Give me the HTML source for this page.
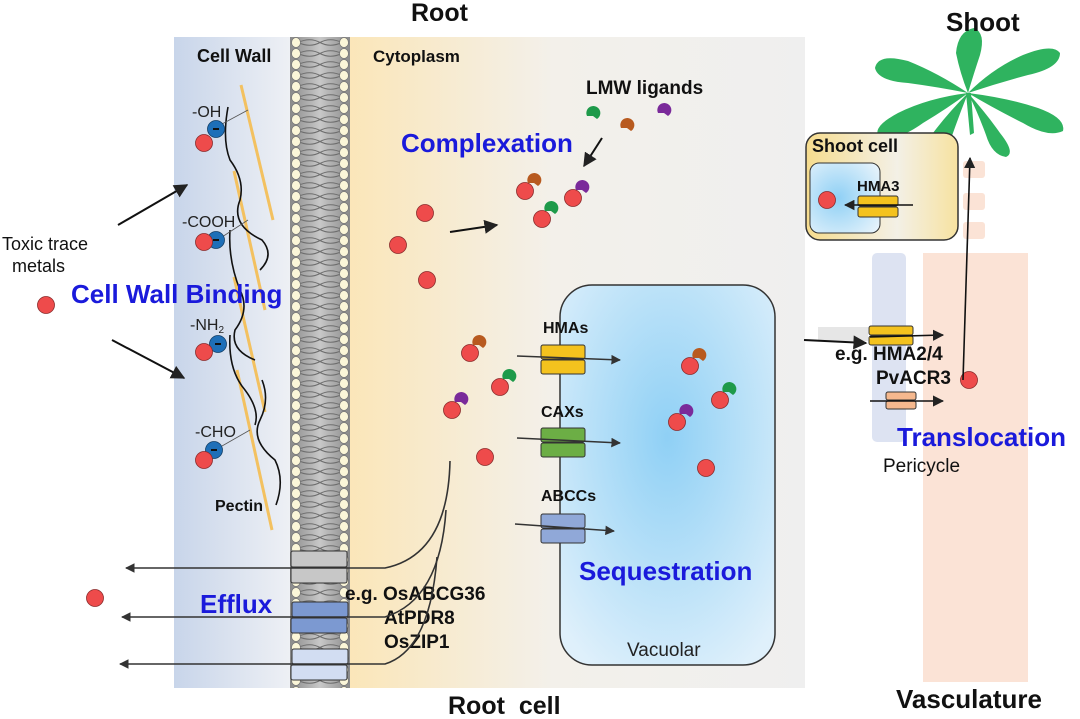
<!DOCTYPE html>
<html><head><meta charset="utf-8"><style>
body{margin:0;background:#fff}
svg{display:block;font-family:"Liberation Sans",Arial,sans-serif}
.b{font-weight:bold}
</style></head><body>
<svg width="1080" height="719" viewBox="0 0 1080 719" xmlns="http://www.w3.org/2000/svg">
<defs>
<linearGradient id="cw" x1="0" x2="1"><stop offset="0" stop-color="#c8d5ea"/><stop offset="1" stop-color="#eff1f5"/></linearGradient>
<linearGradient id="cy" x1="0" x2="1"><stop offset="0" stop-color="#fbe6b8"/><stop offset="0.45" stop-color="#f3f0ea"/><stop offset="1" stop-color="#efefef"/></linearGradient>
<radialGradient id="vac" cx="0.5" cy="0.4" r="0.7"><stop offset="0" stop-color="#8fd0f5"/><stop offset="1" stop-color="#dff0fb"/></radialGradient>
<radialGradient id="vac2" cx="0.4" cy="0.5" r="0.7"><stop offset="0" stop-color="#8fd0f5"/><stop offset="1" stop-color="#e4f2fb"/></radialGradient>
<linearGradient id="sc" x1="0" x2="1"><stop offset="0" stop-color="#f6dc8e"/><stop offset="0.6" stop-color="#f3f0e6"/><stop offset="1" stop-color="#f7e2a0"/></linearGradient>
<linearGradient id="mem" x1="0" x2="1"><stop offset="0" stop-color="#8a8a8a"/><stop offset="0.5" stop-color="#c8c8c8"/><stop offset="1" stop-color="#8a8a8a"/></linearGradient>
<pattern id="beads" width="60" height="11" patternUnits="userSpaceOnUse" x="290" y="37">
<rect width="60" height="11" fill="url(#mem)"/>
<path d="M8 5.5 Q20 0 30 5.5 Q40 11 52 5.5" stroke="#6d6d6d" fill="none" stroke-width="1"/>
<path d="M8 5.5 Q20 11 30 5.5 Q40 0 52 5.5" stroke="#6d6d6d" fill="none" stroke-width="1"/>
<ellipse cx="6" cy="5.5" rx="4.5" ry="5" fill="#fbf6d8" stroke="#777" stroke-width="0.8"/>
<ellipse cx="54" cy="5.5" rx="4.5" ry="5" fill="#fbf6d8" stroke="#777" stroke-width="0.8"/>
</pattern>
<marker id="ar" viewBox="0 0 10 10" refX="9" refY="5" markerWidth="7" markerHeight="7" orient="auto"><path d="M0 0L10 5L0 10z" fill="#222"/></marker>
<marker id="ar2" viewBox="0 0 10 10" refX="9" refY="5" markerWidth="6" markerHeight="6" orient="auto"><path d="M0 0L10 5L0 10z" fill="#333"/></marker>
<g id="m"><circle r="8.5" fill="#ee4b4b" stroke="#8a2a2a" stroke-width="0.8"/></g>
<g id="n"><circle r="8.5" fill="#1e6fb8" stroke="#123e66" stroke-width="0.8"/><rect x="-3" y="-1" width="6" height="2" fill="#111"/></g>
</defs>

<rect x="174" y="37" width="120" height="651" fill="url(#cw)"/>
<rect x="346" y="37" width="459" height="651" fill="url(#cy)"/>
<rect x="923" y="253" width="105" height="429" fill="#fbe3d6"/>
<rect x="872" y="253" width="34" height="189" rx="5" fill="#dde3f2"/>
<rect x="963" y="161" width="22" height="17" rx="3" fill="#fbe3d6"/>
<rect x="963" y="193" width="22" height="17" rx="3" fill="#fbe3d6"/>
<rect x="963" y="222" width="22" height="17" rx="3" fill="#fbe3d6"/>
<rect x="818" y="327" width="50" height="14" fill="#e6e6e6"/>

<!-- plant -->
<g fill="#2fb35f" transform="translate(968,93)">
<path d="M0 0 Q-30 -20 -60 -32 Q-90 -40 -93 -25 Q-90 -12 -60 -10 Q-30 -6 0 0 Z"/>
<path d="M0 0 Q-8 -20 -12 -40 Q-10 -62 6 -65 Q18 -60 12 -38 Q6 -20 0 0 Z"/>
<path d="M0 0 Q25 -25 55 -38 Q85 -50 92 -40 Q92 -25 60 -18 Q30 -10 0 0 Z"/>
<path d="M0 0 Q40 5 70 15 Q98 25 95 38 Q80 45 55 30 Q25 15 0 0 Z"/>
<path d="M0 0 Q-40 5 -70 20 Q-98 35 -88 45 Q-70 48 -45 30 Q-20 15 0 0 Z"/>
<path d="M0 0 Q-20 20 -35 40 Q-50 60 -38 64 Q-22 62 -15 40 Q-8 20 0 0 Z"/>
<path d="M0 0 Q18 20 32 40 Q48 60 38 64 Q24 62 18 42 Q10 20 0 0 Z"/>
<path d="M-2 0 L3 0 L6 40 L2 42 Z"/>
</g>

<rect x="806" y="133" width="152" height="107" rx="14" fill="url(#sc)" stroke="#333" stroke-width="1.5"/>
<rect x="810" y="163" width="70" height="70" rx="9" fill="url(#vac2)" stroke="#333" stroke-width="1"/>
<text x="812" y="152" class="b" font-size="18" fill="#111">Shoot cell</text>
<text x="857" y="191" class="b" font-size="15" fill="#111">HMA3</text>
<use href="#m" x="827" y="200"/>
<rect x="858" y="196" width="40" height="10" rx="2" fill="#f4c21e" stroke="#333"/>
<rect x="858" y="207" width="40" height="10" rx="2" fill="#f4c21e" stroke="#333"/>
<line x1="913" y1="205" x2="845" y2="205" stroke="#111" stroke-width="1.5" marker-end="url(#ar)"/>

<rect x="560" y="285" width="215" height="380" rx="32" fill="url(#vac)" stroke="#333" stroke-width="1.5"/>
<rect x="290" y="37" width="60" height="651" fill="url(#beads)"/>

<g stroke="#f3c160" stroke-width="3" fill="none">
<line x1="241" y1="85" x2="273" y2="220"/>
<line x1="234" y1="171" x2="265" y2="310"/>
<line x1="234" y1="277" x2="265" y2="412"/>
<line x1="237" y1="370" x2="272" y2="530"/>
</g>
<g stroke="#111" stroke-width="1.6" fill="none">
<path d="M228 107 Q222 140 230 160 Q245 180 240 200 Q230 225 262 240 Q275 255 260 270"/>
<path d="M230 230 Q228 260 240 290 Q250 310 235 330 Q230 350 255 360"/>
<path d="M230 335 Q228 370 245 390 Q260 410 255 425"/>
<path d="M262 380 Q270 400 260 420 Q250 440 275 460 Q285 480 276 505"/>
</g>
<g stroke="#555" stroke-width="0.8"><line x1="222" y1="124" x2="248" y2="110"/><line x1="222" y1="237" x2="248" y2="220"/><line x1="222" y1="446" x2="250" y2="430"/></g>
<text x="192" y="117" font-size="16" fill="#222">-OH</text>
<text x="182" y="227" font-size="16" fill="#222">-COOH</text>
<text x="190" y="330" font-size="16" fill="#222">-NH<tspan font-size="10" dy="3">2</tspan></text>
<text x="195" y="437" font-size="16" fill="#222">-CHO</text>
<use href="#n" x="216" y="129"/><use href="#m" x="204" y="143"/>
<use href="#n" x="216" y="240"/><use href="#m" x="204" y="242"/>
<use href="#n" x="218" y="344"/><use href="#m" x="204" y="352"/>
<use href="#n" x="214" y="450"/><use href="#m" x="204" y="460"/>
<text x="215" y="511" class="b" font-size="16" fill="#111">Pectin</text>

<text x="197" y="62" class="b" font-size="18" fill="#111">Cell Wall</text>
<text x="373" y="62" class="b" font-size="17" fill="#111">Cytoplasm</text>
<text x="411" y="21" class="b" font-size="25" fill="#111">Root</text>
<text x="946" y="31" class="b" font-size="26" fill="#111">Shoot</text>
<text x="448" y="714" class="b" font-size="25" fill="#111" xml:space="preserve">Root  cell</text>
<text x="896" y="708" class="b" font-size="26" fill="#111">Vasculature</text>
<text x="586" y="94" class="b" font-size="19" fill="#111">LMW ligands</text>
<text x="401" y="152" class="b" font-size="26" fill="#1a1adb">Complexation</text>
<text x="71" y="303" class="b" font-size="26" fill="#1a1adb">Cell Wall Binding</text>
<text x="200" y="613" class="b" font-size="26" fill="#1a1adb">Efflux</text>
<text x="579" y="580" class="b" font-size="26" fill="#1a1adb">Sequestration</text>
<text x="897" y="446" class="b" font-size="26" fill="#1a1adb">Translocation</text>
<text x="883" y="472" font-size="19" fill="#111">Pericycle</text>
<text x="627" y="656" font-size="19" fill="#222">Vacuolar</text>
<text x="2" y="250" font-size="18" fill="#111">Toxic trace</text>
<text x="12" y="272" font-size="18" fill="#111">metals</text>
<text x="543" y="333" class="b" font-size="16" fill="#111">HMAs</text>
<text x="541" y="417" class="b" font-size="16" fill="#111">CAXs</text>
<text x="541" y="501" class="b" font-size="16" fill="#111">ABCCs</text>
<text x="835" y="360" class="b" font-size="19" fill="#111">e.g. HMA2/4</text>
<text x="876" y="384" class="b" font-size="19" fill="#111">PvACR3</text>
<text x="345" y="600" class="b" font-size="19" fill="#111">e.g. OsABCG36</text>
<text x="384" y="624" class="b" font-size="19" fill="#111">AtPDR8</text>
<text x="384" y="648" class="b" font-size="19" fill="#111">OsZIP1</text>

<use href="#m" x="46" y="305"/><use href="#m" x="95" y="598"/>
<use href="#m" x="425" y="213"/><use href="#m" x="398" y="245"/><use href="#m" x="427" y="280"/>
<use href="#m" x="485" y="457"/><use href="#m" x="706" y="468"/><use href="#m" x="969" y="380"/>
<g>
<use href="#m" x="525" y="191"/><path d="M528 183 a7 7 0 1 1 10 3 l-4 -3 z" fill="#b85a1f"/>
<use href="#m" x="542" y="219"/><path d="M545 211 a7 7 0 1 1 10 3 l-4 -3 z" fill="#1e9a4a"/>
<use href="#m" x="573" y="198"/><path d="M576 190 a7 7 0 1 1 10 3 l-4 -3 z" fill="#7a2a9a"/>
<use href="#m" x="470" y="353"/><path d="M473 345 a7 7 0 1 1 10 3 l-4 -3 z" fill="#b85a1f"/>
<use href="#m" x="500" y="387"/><path d="M503 379 a7 7 0 1 1 10 3 l-4 -3 z" fill="#1e9a4a"/>
<use href="#m" x="452" y="410"/><path d="M455 402 a7 7 0 1 1 10 3 l-4 -3 z" fill="#7a2a9a"/>
<use href="#m" x="690" y="366"/><path d="M693 358 a7 7 0 1 1 10 3 l-4 -3 z" fill="#b85a1f"/>
<use href="#m" x="720" y="400"/><path d="M723 392 a7 7 0 1 1 10 3 l-4 -3 z" fill="#1e9a4a"/>
<use href="#m" x="677" y="422"/><path d="M680 414 a7 7 0 1 1 10 3 l-4 -3 z" fill="#7a2a9a"/>
<path d="M587 116 a7 7 0 1 1 10 3 l-4 -3 z" fill="#1e9a4a"/>
<path d="M621 128 a7 7 0 1 1 10 3 l-4 -3 z" fill="#b85a1f"/>
<path d="M658 113 a7 7 0 1 1 10 3 l-4 -3 z" fill="#7a2a9a"/>
</g>

<g stroke="#111" stroke-width="2" fill="none">
<line x1="118" y1="225" x2="187" y2="185" marker-end="url(#ar)"/>
<line x1="112" y1="340" x2="184" y2="378" marker-end="url(#ar)"/>
<line x1="450" y1="232" x2="497" y2="225" marker-end="url(#ar)"/>
<line x1="602" y1="138" x2="584" y2="166" marker-end="url(#ar)"/>
<line x1="804" y1="340" x2="866" y2="343" marker-end="url(#ar)"/>
<line x1="963" y1="380" x2="970" y2="158" stroke-width="1.6" marker-end="url(#ar)"/>
</g>

<rect x="541" y="345" width="44" height="14" rx="2" fill="#f4c21e" stroke="#333"/><rect x="541" y="360" width="44" height="14" rx="2" fill="#f4c21e" stroke="#333"/>
<rect x="541" y="428" width="44" height="14" rx="2" fill="#6cae45" stroke="#333"/><rect x="541" y="443" width="44" height="14" rx="2" fill="#6cae45" stroke="#333"/>
<rect x="541" y="514" width="44" height="14" rx="2" fill="#90a8d8" stroke="#333"/><rect x="541" y="529" width="44" height="14" rx="2" fill="#90a8d8" stroke="#333"/>
<g stroke="#333" stroke-width="1.6">
<line x1="517" y1="356" x2="620" y2="360" marker-end="url(#ar2)"/>
<line x1="517" y1="438" x2="620" y2="443" marker-end="url(#ar2)"/>
<line x1="515" y1="524" x2="614" y2="531" marker-end="url(#ar2)"/>
</g>
<rect x="869" y="326" width="44" height="9" rx="2" fill="#f4c21e" stroke="#333"/><rect x="869" y="336" width="44" height="9" rx="2" fill="#f4c21e" stroke="#333"/>
<rect x="886" y="392" width="30" height="8" rx="2" fill="#f5b88e" stroke="#333"/><rect x="886" y="401" width="30" height="8" rx="2" fill="#f5b88e" stroke="#333"/>
<g stroke="#111" stroke-width="1.6">
<line x1="870" y1="337" x2="943" y2="335" marker-end="url(#ar)"/>
<line x1="870" y1="401" x2="943" y2="401" marker-end="url(#ar)"/>
</g>

<rect x="291" y="551" width="56" height="16" rx="2" fill="#c7c7c7" stroke="#333"/><rect x="291" y="567" width="56" height="16" rx="2" fill="#c7c7c7" stroke="#333"/>
<rect x="292" y="602" width="56" height="15" rx="2" fill="#7c99d1" stroke="#333"/><rect x="291" y="618" width="56" height="15" rx="2" fill="#7c99d1" stroke="#333"/>
<rect x="292" y="649" width="56" height="15" rx="2" fill="#d2ddf2" stroke="#333"/><rect x="291" y="665" width="56" height="15" rx="2" fill="#d2ddf2" stroke="#333"/>
<g stroke="#333" stroke-width="1.6" fill="none">
<path d="M450 461 Q448 555 385 568 L126 568" marker-end="url(#ar2)"/>
<path d="M446 510 Q440 600 385 617 L122 617" marker-end="url(#ar2)"/>
<path d="M437 557 Q430 650 385 664 L120 664" marker-end="url(#ar2)"/>
</g>
</svg>
</body></html>
